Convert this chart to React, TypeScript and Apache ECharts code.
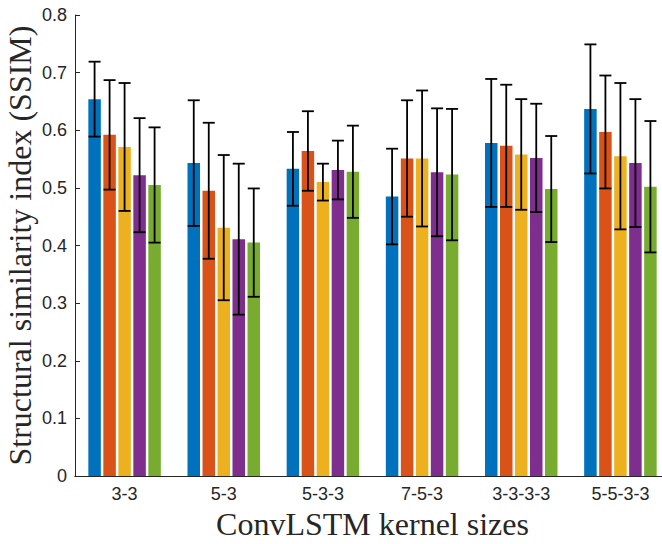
import React, { useEffect, useRef } from "react";
import * as echarts from "echarts";

const categories = ["3-3", "5-3", "5-3-3", "7-5-3", "3-3-3-3", "5-5-3-3"];
const seriesNames = ["Model A", "Model B", "Model C", "Model D", "Model E"];
const colors = ["#0072BD", "#D95319", "#EDB120", "#7E2F8E", "#77AC30"];

const blueMean = [0.654, 0.543, 0.533, 0.485, 0.578, 0.637];
const orangeMean = [0.592, 0.495, 0.564, 0.551, 0.573, 0.597];
const yellowMean = [0.571, 0.431, 0.51, 0.551, 0.558, 0.555];
const purpleMean = [0.522, 0.411, 0.531, 0.527, 0.552, 0.543];
const greenMean = [0.505, 0.405, 0.528, 0.523, 0.498, 0.502];

const blueErr = [0.065, 0.109, 0.064, 0.083, 0.111, 0.112];
const orangeErr = [0.095, 0.118, 0.069, 0.101, 0.106, 0.098];
const yellowErr = [0.111, 0.126, 0.032, 0.118, 0.096, 0.127];
const purpleErr = [0.099, 0.131, 0.051, 0.111, 0.094, 0.111];
const greenErr = [0.1, 0.094, 0.08, 0.114, 0.092, 0.114];

const yTicks = [0, 0.1, 0.2, 0.3, 0.4, 0.5, 0.6, 0.7, 0.8];

const means = [blueMean, orangeMean, yellowMean, purpleMean, greenMean];
const errs = [blueErr, orangeErr, yellowErr, purpleErr, greenErr];

const BAR_W = 12.5;
const BAR_GAP = 0.2;
const STEP = BAR_W * (1 + BAR_GAP);
const CAP = 12;
const AXIS_COLOR = "#262626";

export default function App() {
  const ref = useRef<HTMLDivElement>(null);
  useEffect(() => {
    if (!ref.current) return;
    const chart = echarts.init(ref.current, undefined, { renderer: "svg" });

    const errData: number[][] = [];
    means.forEach((m, s) => {
      m.forEach((v, c) => {
        errData.push([c, s, v - errs[s][c], v + errs[s][c]]);
      });
    });

    const barSeries = means.map((m, s) => ({
      name: seriesNames[s],
      type: "bar",
      data: m,
      barWidth: BAR_W,
      barGap: `${BAR_GAP * 100}%`,
      itemStyle: { color: colors[s] },
      xAxisIndex: 0,
      yAxisIndex: 0,
      z: 2,
    }));

    const option: any = {
      animation: false,
      backgroundColor: "#ffffff",
      grid: {
        left: 75,
        top: 15,
        width: 595,
        height: 461,
        containLabel: false,
        outerBoundsMode: "none",
      },
      xAxis: [
        {
          type: "category",
          data: categories,
          position: "bottom",
          boundaryGap: true,
          axisLine: { lineStyle: { color: AXIS_COLOR, width: 1 } },
          axisTick: { inside: true, alignWithLabel: true, length: 5, lineStyle: { color: AXIS_COLOR } },
          axisLabel: {
            color: AXIS_COLOR,
            fontFamily: "Liberation Sans",
            fontSize: 18,
            margin: 9,
          },
          name: "ConvLSTM kernel sizes",
          nameLocation: "middle",
          nameGap: 30,
          nameTextStyle: { fontFamily: "Liberation Serif", fontSize: 32, color: AXIS_COLOR },
        },
        {
          type: "category",
          data: categories,
          position: "top",
          boundaryGap: true,
          axisLine: { lineStyle: { color: AXIS_COLOR, width: 1 } },
          axisTick: { inside: true, alignWithLabel: true, length: 5, lineStyle: { color: AXIS_COLOR } },
          axisLabel: { show: false },
        },
      ],
      yAxis: [
        {
          type: "value",
          min: yTicks[0],
          max: yTicks[yTicks.length - 1],
          interval: 0.1,
          position: "left",
          splitLine: { show: false },
          axisLine: { show: true, lineStyle: { color: AXIS_COLOR, width: 1 } },
          axisTick: { show: true, inside: true, length: 5, lineStyle: { color: AXIS_COLOR } },
          axisLabel: {
            color: AXIS_COLOR,
            fontFamily: "Liberation Sans",
            fontSize: 18,
            margin: 8,
            formatter: (v: number) => String(Math.round(v * 10) / 10),
          },
          name: "Structural similarity index (SSIM)",
          nameLocation: "middle",
          nameGap: 39,
          nameMoveOverlap: false,
          nameTextStyle: { fontFamily: "Liberation Serif", fontSize: 32, lineHeight: 32, color: AXIS_COLOR },
        },
        {
          type: "value",
          min: yTicks[0],
          max: yTicks[yTicks.length - 1],
          interval: 0.1,
          position: "right",
          splitLine: { show: false },
          axisLine: { show: true, lineStyle: { color: AXIS_COLOR, width: 1 } },
          axisTick: { show: true, inside: true, length: 5, lineStyle: { color: AXIS_COLOR } },
          axisLabel: { show: false },
        },
      ],
      series: [
        ...barSeries,
        {
          type: "custom",
          name: "error",
          xAxisIndex: 0,
          yAxisIndex: 0,
          z: 5,
          data: errData,
          encode: { x: 0, y: [2, 3] },
          renderItem: (params: any, api: any) => {
            const c = api.value(0);
            const s = api.value(1);
            const lo = api.coord([c, api.value(2)]);
            const hi = api.coord([c, api.value(3)]);
            const x = lo[0] + (s - 2) * STEP;
            const style = { stroke: "#000000", lineWidth: 1.8 };
            return {
              type: "group",
              children: [
                { type: "line", shape: { x1: x, y1: lo[1], x2: x, y2: hi[1] }, style },
                { type: "line", shape: { x1: x - CAP / 2, y1: hi[1], x2: x + CAP / 2, y2: hi[1] }, style },
                { type: "line", shape: { x1: x - CAP / 2, y1: lo[1], x2: x + CAP / 2, y2: lo[1] }, style },
              ],
            };
          },
        },
      ],
    };
    chart.setOption(option);
    return () => chart.dispose();
  }, []);
  return (
    <div
      ref={ref}
      style={{ position: "fixed", left: 0, top: 0, width: 662, height: 544, background: "#fff" }}
    />
  );
}
